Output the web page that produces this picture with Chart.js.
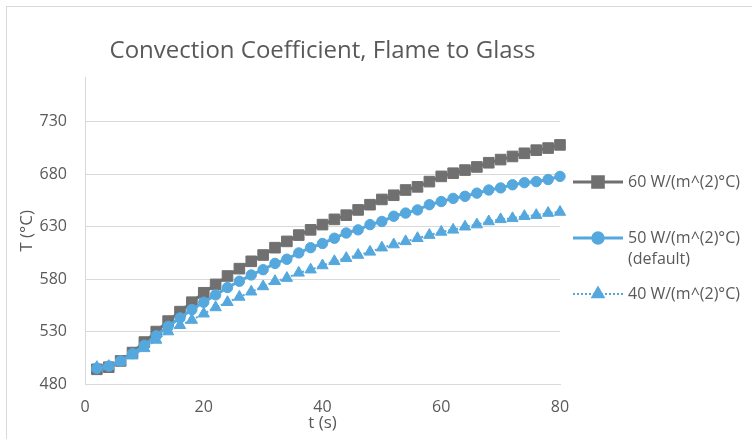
<!DOCTYPE html>
<html>
<head>
<meta charset="utf-8">
<script src="https://cdn.jsdelivr.net/npm/chart.js@4.4.1/dist/chart.umd.min.js"></script>
<style>
  html, body { margin: 0; padding: 0; background: #fff; }
  #wrap { position: relative; width: 752px; height: 439px; }
</style>
</head>
<body>
<div id="wrap"><canvas id="chart"></canvas></div>
<script>
// time (s) and glass temperature (°C) for each convection coefficient
const times = [2, 4, 6, 8, 10, 12, 14, 16, 18, 20, 22, 24, 26, 28, 30, 32, 34, 36, 38, 40,
               42, 44, 46, 48, 50, 52, 54, 56, 58, 60, 62, 64, 66, 68, 70, 72, 74, 76, 78, 80];
const temp60 = [494, 496, 502, 510, 520, 530, 540, 549, 558, 567, 575, 583, 590, 597, 603, 610, 616, 622, 627, 632,
                637, 641, 646, 651, 656, 660, 665, 668, 673, 678, 681, 684, 687, 691, 694, 697, 700, 703, 705, 708];
const temp50 = [495, 497, 502, 509, 517, 526, 535, 543, 551, 558, 565, 572, 578, 584, 589, 595, 599, 605, 610, 614,
                619, 624, 627, 632, 635, 640, 643, 646, 651, 654, 657, 659, 662, 665, 667, 670, 672, 673, 675, 678];
const temp40 = [496, 497, 501, 507, 514, 522, 530, 536, 541, 547, 553, 558, 563, 568, 573, 578, 581, 586, 589, 593,
                597, 600, 603, 606, 610, 613, 616, 619, 622, 625, 627, 630, 632, 635, 637, 638, 640, 641, 643, 644];

const seriesLabels = [
  ['60 W/(m^(2)°C)'],
  ['50 W/(m^(2)°C)', '(default)'],
  ['40 W/(m^(2)°C)']
];
const yTickValues = [480, 530, 580, 630, 680, 730];

const GRAY = '#707070';
const BLUE = '#55a8dd';
const TEXT = '#595959';
const LINE = '#d9d9d9';

Chart.defaults.font.family = '"Open Sans", sans-serif';
Chart.defaults.color = TEXT;

function toPoints(values) {
  return times.map((t, i) => ({ x: t, y: values[i] }));
}

// outer frame of the chart object
const frame = {
  id: 'frame',
  beforeDraw(chart) {
    const ctx = chart.ctx;
    ctx.save();
    ctx.fillStyle = '#fff';
    ctx.fillRect(0, 0, chart.width, chart.height);
    ctx.strokeStyle = LINE;
    ctx.lineWidth = 1;
    ctx.strokeRect(6.5, 6.5, chart.width + 20, chart.height + 20);
    ctx.restore();
  }
};

// legend on the right: line sample with marker in the middle
const sideLegend = {
  id: 'sideLegend',
  afterDraw(chart) {
    const ctx = chart.ctx;
    const rows = [182, 238, 294];
    chart.data.datasets.forEach((ds, i) => {
      const y = rows[i];
      ctx.save();
      ctx.strokeStyle = ds.borderColor;
      ctx.lineWidth = ds.borderWidth;
      ctx.setLineDash(ds.borderDash || []);
      ctx.beginPath();
      ctx.moveTo(573, y);
      ctx.lineTo(623, y);
      ctx.stroke();
      ctx.setLineDash([]);
      ctx.fillStyle = ds.pointBackgroundColor;
      ctx.strokeStyle = ds.pointBorderColor;
      Chart.helpers.drawPoint(ctx, {
        pointStyle: ds.pointStyle,
        radius: ds.pointRadius,
        borderWidth: ds.pointBorderWidth,
        rotation: 0
      }, 598, y);
      ctx.fillStyle = TEXT;
      ctx.font = '16px "Open Sans", sans-serif';
      ctx.textBaseline = 'middle';
      seriesLabels[i].forEach((line, k) => ctx.fillText(line, 628, y + k * 21));
      ctx.restore();
    });
  }
};

new Chart(document.getElementById('chart'), {
  type: 'line',
  data: {
    datasets: [
      {
        label: seriesLabels[0].join(' '),
        data: toPoints(temp60),
        borderColor: GRAY,
        backgroundColor: GRAY,
        borderWidth: 3,
        pointStyle: 'rect',
        pointRadius: 7.5,
        pointBorderWidth: 1,
        pointBackgroundColor: GRAY,
        pointBorderColor: GRAY,
        order: 3,
        clip: false
      },
      {
        label: seriesLabels[1].join(' '),
        data: toPoints(temp50),
        borderColor: BLUE,
        backgroundColor: BLUE,
        borderWidth: 3,
        pointStyle: 'circle',
        pointRadius: 5.2,
        pointBorderWidth: 1,
        pointBackgroundColor: BLUE,
        pointBorderColor: BLUE,
        order: 2,
        clip: false
      },
      {
        label: seriesLabels[2].join(' '),
        data: toPoints(temp40),
        borderColor: BLUE,
        backgroundColor: BLUE,
        borderWidth: 2,
        borderDash: [2, 2],
        pointStyle: 'triangle',
        pointRadius: 6.5,
        pointBorderWidth: 1,
        pointBackgroundColor: BLUE,
        pointBorderColor: BLUE,
        order: 1,
        clip: false
      }
    ]
  },
  options: {
    responsive: true,
    maintainAspectRatio: false,
    animation: false,
    layout: { padding: { left: 0, right: 192, top: 0, bottom: 4 } },
    plugins: {
      legend: { display: false },
      tooltip: { enabled: false },
      title: {
        display: true,
        fullSize: false,
        text: 'Convection Coefficient, Flame to Glass',
        color: TEXT,
        font: { size: 24, weight: 'normal' },
        padding: { top: 37, bottom: 12 }
      }
    },
    scales: {
      x: {
        type: 'linear',
        min: 0,
        max: 80,
        ticks: { stepSize: 20, padding: 14, font: { size: 16 }, color: TEXT },
        grid: { display: false, drawTicks: false },
        border: { display: true, color: LINE, width: 1 },
        title: { display: true, text: 't (s)', color: TEXT, font: { size: 17 }, padding: { top: 0, bottom: 2 } },
        afterFit(scale) { scale.height = 51; }
      },
      y: {
        min: 480,
        max: 772,
        ticks: { stepSize: 50, includeBounds: false, padding: 18, font: { size: 16 }, color: TEXT },
        afterBuildTicks(scale) {
          scale.ticks = yTickValues.map(v => ({ value: v }));
        },
        grid: { color: LINE, drawTicks: false },
        border: { display: true, color: LINE, width: 1 },
        title: { display: true, text: 'T (°C)', color: TEXT, font: { size: 17 }, padding: { top: 17, bottom: 0 } },
        afterFit(scale) { scale.width = 85; }
      }
    }
  },
  plugins: [frame, sideLegend]
});
</script>
</body>
</html>
